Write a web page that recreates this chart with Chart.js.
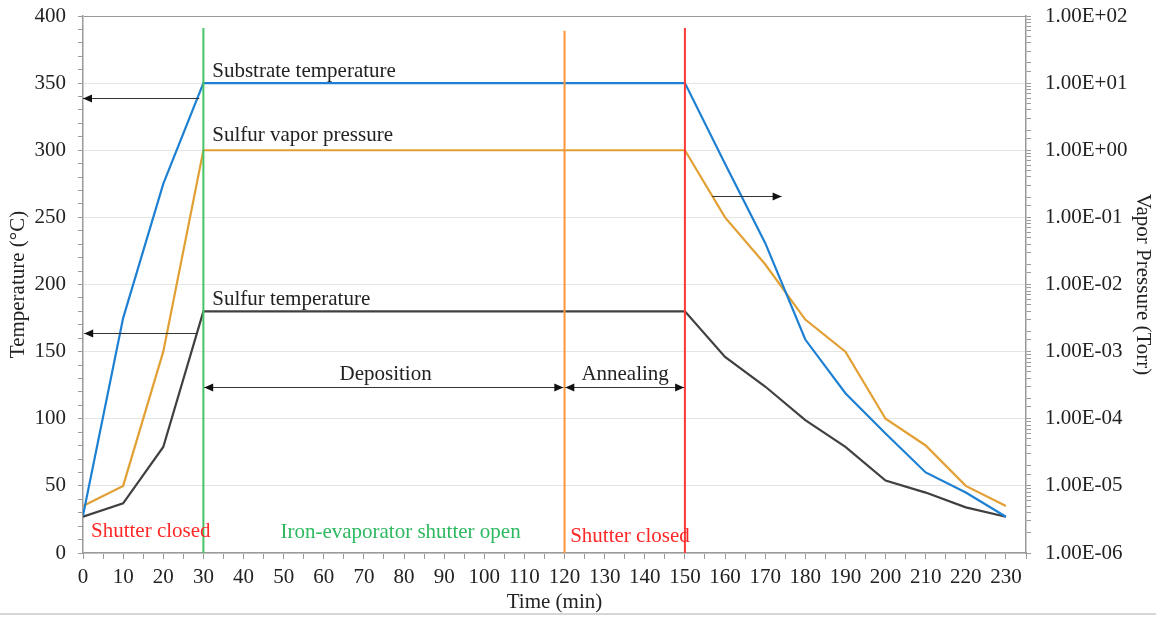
<!DOCTYPE html>
<html>
<head>
<meta charset="utf-8">
<script src="https://cdn.jsdelivr.net/npm/chart.js@4.4.1/dist/chart.umd.min.js"></script>
<style>
  html, body { margin: 0; padding: 0; background: #fff; }
  #wrap { width: 1156px; height: 617px; }
</style>
</head>
<body>
<div id="wrap"><canvas id="process" width="1156" height="617"></canvas></div>
<script>
// time axis, min
const time = [0, 10, 20, 30, 40, 50, 60, 70, 80, 90, 100, 110, 120,
              130, 140, 150, 160, 170, 180, 190, 200, 210, 220, 230];

// substrate temperature, degC (left axis)
const substrateTemp = [28, 175, 275, 350, 350, 350, 350, 350, 350, 350, 350, 350, 350,
                       350, 350, 350, 290, 231, 159, 119, 89, 60, 45, 27];

// sulfur vapor pressure, Torr (right axis)
const vaporPressure = [5e-6, 1e-5, 1e-3, 1, 1, 1, 1, 1, 1, 1, 1, 1, 1,
                       1, 1, 1, 1e-1, 2e-2, 3e-3, 1e-3, 1e-4, 4e-5, 1e-5, 5e-6];

// sulfur source temperature, degC (left axis)
const sulfurTemp = [27, 37, 79, 180, 180, 180, 180, 180, 180, 180, 180, 180, 180,
                    180, 180, 180, 146, 124, 99, 79, 54, 45, 34, 27];

// pressure decades shown on the right axis
const pressureMin = 1e-6;
const pressureMax = 1e2;

const FONT = "'Liberation Serif', 'Times New Roman', serif";
const AXIS = '#9a9a9a';

const pts = arr => time.map((t, i) => ({ x: t, y: arr[i] }));

function sci(v) {
  const e = Math.round(Math.log10(v));
  return '1.00E' + (e < 0 ? '-' : '+') + String(Math.abs(e)).padStart(2, '0');
}

// fixed axis boxes so the plot area stays put
function fixBox(size, key) {
  return s => {
    s[key] = size;
    s.paddingTop = 0; s.paddingBottom = 0;
    s.paddingLeft = 0; s.paddingRight = 0;
  };
}

// markers, arrows and notes drawn over the plot
const notes = {
  vlines: [
    { x: 30,  top: 391, color: 'rgb(70,195,100)' },
    { x: 120, top: 389, color: 'rgb(250,150,60)' },
    { x: 150, top: 391, color: 'rgb(255,55,55)' }
  ],
  arrows: [
    { from: [29, 339],  to: [0, 339],   both: false },
    { from: [28.3, 164], to: [0.3, 164], both: false },
    { from: [156.8, 266], to: [174.1, 266], both: false },
    { from: [30.2, 123.6], to: [119.7, 123.6], both: true },
    { from: [120.2, 123.6], to: [149.8, 123.6], both: true }
  ],
  labels: [
    { text: 'Substrate temperature', x: 32.2, y: 354.6, align: 'left', color: '#222' },
    { text: 'Sulfur vapor pressure', x: 32.2, y: 306.9, align: 'left', color: '#222' },
    { text: 'Sulfur temperature',    x: 32.2, y: 184.7, align: 'left', color: '#222' },
    { text: 'Deposition',            x: 75.4, y: 128.9, align: 'center', color: '#222' },
    { text: 'Annealing',             x: 135.1, y: 128.9, align: 'center', color: '#222' },
    { text: 'Shutter closed',        x: 2.0,  y: 11.9, align: 'left', color: 'rgb(255,40,40)' },
    { text: 'Iron-evaporator shutter open', x: 49.2, y: 11.2, align: 'left', color: 'rgb(45,185,95)' },
    { text: 'Shutter closed',        x: 121.4, y: 8.2, align: 'left', color: 'rgb(255,40,40)' }
  ]
};

function head(ctx, x, y, dir) {
  ctx.beginPath();
  ctx.moveTo(x, y);
  ctx.lineTo(x - dir * 9, y - 4);
  ctx.lineTo(x - dir * 9, y + 4);
  ctx.closePath();
  ctx.fill();
}

const overlay = {
  id: 'overlay',
  afterDatasetsDraw(chart) {
    const ctx = chart.ctx;
    const xs = chart.scales.x, ys = chart.scales.y;
    const X = v => xs.getPixelForValue(v);
    const Y = v => ys.getPixelForValue(v);
    const area = chart.chartArea;
    ctx.save();

    notes.vlines.forEach(m => {
      ctx.strokeStyle = m.color;
      ctx.lineWidth = 2;
      ctx.beginPath();
      ctx.moveTo(X(m.x), Y(m.top));
      ctx.lineTo(X(m.x), area.bottom);
      ctx.stroke();
    });

    ctx.strokeStyle = '#333';
    ctx.fillStyle = '#111';
    ctx.lineWidth = 1;
    notes.arrows.forEach(a => {
      const x1 = X(a.from[0]), x2 = X(a.to[0]);
      const y = Math.round(Y(a.from[1])) + 0.5;
      ctx.beginPath();
      ctx.moveTo(x1, y);
      ctx.lineTo(x2, y);
      ctx.stroke();
      const dir = x2 > x1 ? 1 : -1;
      head(ctx, x2, y, dir);
      if (a.both) head(ctx, x1, y, -dir);
    });

    ctx.font = '21px ' + FONT;
    ctx.textBaseline = 'alphabetic';
    notes.labels.forEach(l => {
      ctx.fillStyle = l.color;
      ctx.textAlign = l.align;
      ctx.fillText(l.text, X(l.x), Y(l.y));
    });

    // rule under the figure
    ctx.strokeStyle = '#d6d6d6';
    ctx.lineWidth = 2;
    ctx.beginPath();
    ctx.moveTo(0, 614);
    ctx.lineTo(chart.width, 614);
    ctx.stroke();

    ctx.restore();
  }
};

new Chart(document.getElementById('process'), {
  type: 'line',
  data: {
    datasets: [
      { label: 'Substrate temperature', data: pts(substrateTemp), yAxisID: 'y',
        borderColor: 'rgb(30,128,210)', borderWidth: 2.2 },
      { label: 'Sulfur vapor pressure', data: pts(vaporPressure), yAxisID: 'y2',
        borderColor: 'rgb(226,160,52)', borderWidth: 2.2 },
      { label: 'Sulfur temperature', data: pts(sulfurTemp), yAxisID: 'y',
        borderColor: 'rgb(64,64,64)', borderWidth: 2.2 }
    ]
  },
  options: {
    responsive: false,
    animation: false,
    events: [],
    layout: { padding: { top: 16, left: 0, right: 0, bottom: 0 } },
    elements: { point: { radius: 0 }, line: { tension: 0 } },
    plugins: { legend: { display: false }, tooltip: { enabled: false } },
    scales: {
      x: {
        type: 'linear',
        min: 0,
        max: 235,
        afterFit: fixBox(64, 'height'),
        grid: { drawOnChartArea: false, tickColor: AXIS, tickLength: 6 },
        border: { color: AXIS, width: 1.5 },
        ticks: {
          stepSize: 5,
          autoSkip: false,
          maxRotation: 0,
          padding: 6,
          color: '#222',
          font: { family: FONT, size: 21 },
          callback: v => (v % 10 === 0 && v <= 230) ? String(v) : ''
        },
        title: {
          display: true,
          text: 'Time (min)',
          color: '#222',
          font: { family: FONT, size: 21 },
          padding: { top: 0, bottom: 2 }
        }
      },
      y: {
        position: 'left',
        min: 0,
        max: 400,
        afterFit: fixBox(83, 'width'),
        grid: {
          color: c => c.tick.value % 50 !== 0 ? 'rgba(0,0,0,0)' : (c.tick.value === 400 ? AXIS : '#e4e4e4'),
          tickColor: AXIS,
          tickLength: 5
        },
        border: { color: AXIS, width: 1.5 },
        ticks: {
          stepSize: 10,
          autoSkip: false,
          padding: 12,
          color: '#222',
          font: { family: FONT, size: 21 },
          callback: v => v % 50 === 0 ? String(v) : ''
        },
        title: {
          display: true,
          text: 'Temperature (°C)',
          color: '#222',
          font: { family: FONT, size: 21 },
          padding: { top: 6, bottom: 0 }
        }
      },
      y2: {
        type: 'logarithmic',
        position: 'right',
        min: pressureMin,
        max: pressureMax,
        afterFit: fixBox(130, 'width'),
        grid: { drawOnChartArea: false, tickColor: AXIS, tickLength: 5 },
        border: { color: AXIS, width: 1.5 },
        ticks: {
          autoSkip: false,
          padding: 14,
          color: '#222',
          font: { family: FONT, size: 21 },
          callback: v => {
            const e = Math.log10(v);
            return Math.abs(e - Math.round(e)) < 1e-6 ? sci(v) : '';
          }
        },
        title: {
          display: true,
          text: 'Vapor Pressure (Torr)',
          color: '#222',
          font: { family: FONT, size: 21 },
          padding: { top: 1, bottom: 0 }
        }
      }
    }
  },
  plugins: [overlay]
});
</script>
</body>
</html>
